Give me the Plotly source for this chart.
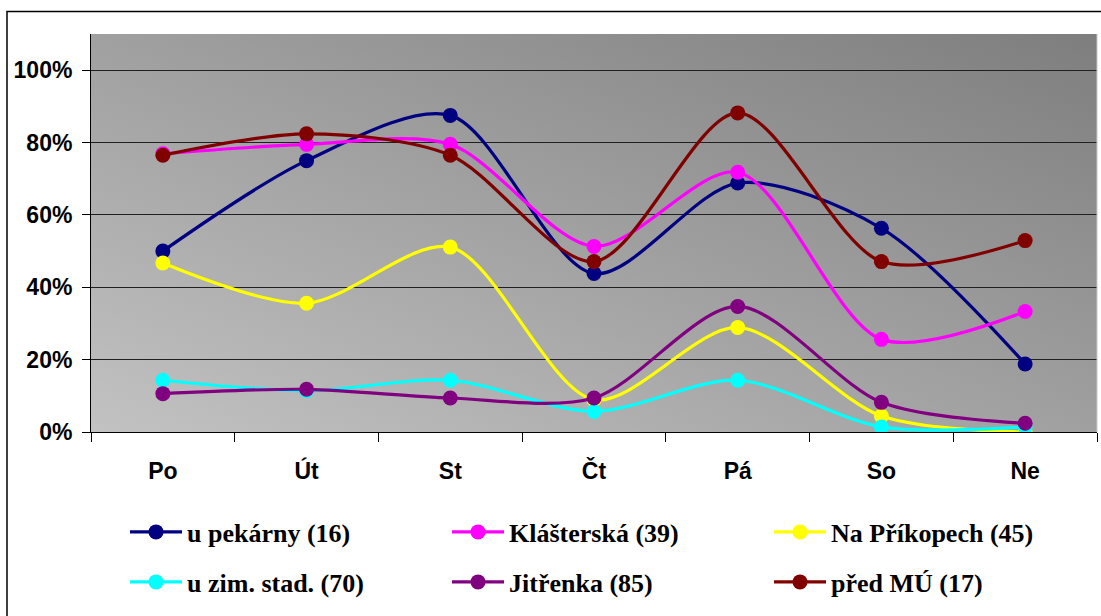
import base64
import plotly.graph_objects as go

# Weekdays on the category axis
days = ["Po", "Út", "St", "Čt", "Pá", "So", "Ne"]

# Share (%) per location and weekday
u_pekarny = [50.0, 75.0, 87.5, 43.8, 68.8, 56.3, 18.8]
klasterska = [76.9, 79.5, 79.5, 51.3, 71.8, 25.6, 33.3]
na_prikopech = [46.7, 35.6, 51.1, 8.9, 28.9, 4.4, 0.0]
u_zim_stad = [14.3, 11.4, 14.3, 5.7, 14.3, 1.4, 1.4]
jitrenka = [10.6, 11.8, 9.4, 9.4, 34.7, 8.2, 2.4]
pred_mu = [76.5, 82.4, 76.5, 47.1, 88.2, 47.1, 52.9]

series_names = [
    "u pekárny (16)",
    "Klášterská (39)",
    "Na Příkopech (45)",
    "u zim. stad. (70)",
    "Jitřenka (85)",
    "před MÚ (17)",
]
series_values = [u_pekarny, klasterska, na_prikopech, u_zim_stad, jitrenka, pred_mu]
series_colors = ["#000080", "#FF00FF", "#FFFF00", "#00FFFF", "#800080", "#800000"]

y_ticks = [0, 20, 40, 60, 80, 100]

W, H = 1101, 616
L, R, T, B = 91, 4, 34, 184
plot_w = W - L - R
plot_h = H - T - B


def px_to_paper_x(px):
    return (px - L) / plot_w


def px_to_paper_y(py):
    return (H - B - py) / plot_h


fig = go.Figure()

# legend slots: (left pixel per column, row centre pixel)
col_px = [125, 447, 769]
row_px = [532, 582]
legend_ids = ["legend", "legend2", "legend3", "legend4", "legend5", "legend6"]

for i, (name, vals, col) in enumerate(zip(series_names, series_values, series_colors)):
    fig.add_trace(
        go.Scatter(
            x=days,
            y=vals,
            name=name,
            mode="lines+markers",
            line=dict(color=col, width=3.2, shape="spline", smoothing=0.85),
            marker=dict(color=col, size=15),
            legend=legend_ids[i],
        )
    )

legend_font = dict(family="Liberation Serif", size=26, color="#000000", weight="bold")
legend_layout = {}
for i, lid in enumerate(legend_ids):
    legend_layout[lid] = dict(
        x=px_to_paper_x(col_px[i % 3]),
        y=px_to_paper_y(row_px[i // 3]),
        xanchor="left",
        yanchor="middle",
        orientation="h",
        bgcolor="rgba(0,0,0,0)",
        borderwidth=0,
        itemwidth=52,
        font=legend_font,
    )

# diagonal grey gradient for the plotting area
svg = (
    '<svg xmlns="http://www.w3.org/2000/svg" width="200" height="100" '
    'preserveAspectRatio="none" viewBox="0 0 200 100">'
    '<defs><linearGradient id="g" x1="0" y1="1" x2="1" y2="0">'
    '<stop offset="0" stop-color="#c2c2c2"/>'
    '<stop offset="1" stop-color="#7e7e7e"/>'
    '</linearGradient></defs>'
    '<rect width="200" height="100" fill="url(#g)"/></svg>'
)
bg_src = "data:image/svg+xml;base64," + base64.b64encode(svg.encode("utf-8")).decode("ascii")

tick_font = dict(family="Liberation Sans", size=23, color="#000000", weight="bold")

fig.update_layout(
    width=W,
    height=H,
    margin=dict(l=L, r=R, t=T, b=B),
    paper_bgcolor="#FFFFFF",
    plot_bgcolor="rgba(0,0,0,0)",
    showlegend=True,
    images=[
        dict(
            source=bg_src,
            xref="paper",
            yref="paper",
            x=0,
            y=1,
            sizex=1,
            sizey=1,
            sizing="stretch",
            xanchor="left",
            yanchor="top",
            layer="below",
        )
    ],
    xaxis=dict(
        type="category",
        categoryorder="array",
        categoryarray=days,
        range=[-0.5, 6.5],
        tickson="boundaries",
        ticks="outside",
        ticklen=9,
        tickcolor="#000000",
        tickwidth=1,
        showline=True,
        linecolor="#000000",
        linewidth=1,
        showgrid=False,
        zeroline=False,
        tickfont=tick_font,
        ticklabelstandoff=18,
    ),
    yaxis=dict(
        range=[0, 110],
        tickvals=y_ticks,
        ticktext=[f"{v}%" for v in y_ticks],
        ticks="outside",
        ticklen=8,
        tickcolor="#000000",
        tickwidth=1,
        showline=True,
        linecolor="#000000",
        linewidth=1,
        showgrid=True,
        gridcolor="#202020",
        gridwidth=1,
        zeroline=False,
        tickfont=tick_font,
        ticklabelstandoff=5,
    ),
    shapes=[
        # outer chart frame
        dict(
            type="rect",
            xref="paper",
            yref="paper",
            x0=px_to_paper_x(7),
            x1=px_to_paper_x(1110),
            y0=px_to_paper_y(630),
            y1=px_to_paper_y(11.5),
            line=dict(color="#000000", width=1.5),
            fillcolor="rgba(0,0,0,0)",
            layer="above",
        ),
        # right border of the plotting area
        dict(
            type="line",
            xref="paper",
            yref="paper",
            x0=1,
            x1=1,
            y0=0,
            y1=1,
            line=dict(color="#c8c8c8", width=1),
        ),
    ],
    **legend_layout,
)

fig.write_html("out.html")
